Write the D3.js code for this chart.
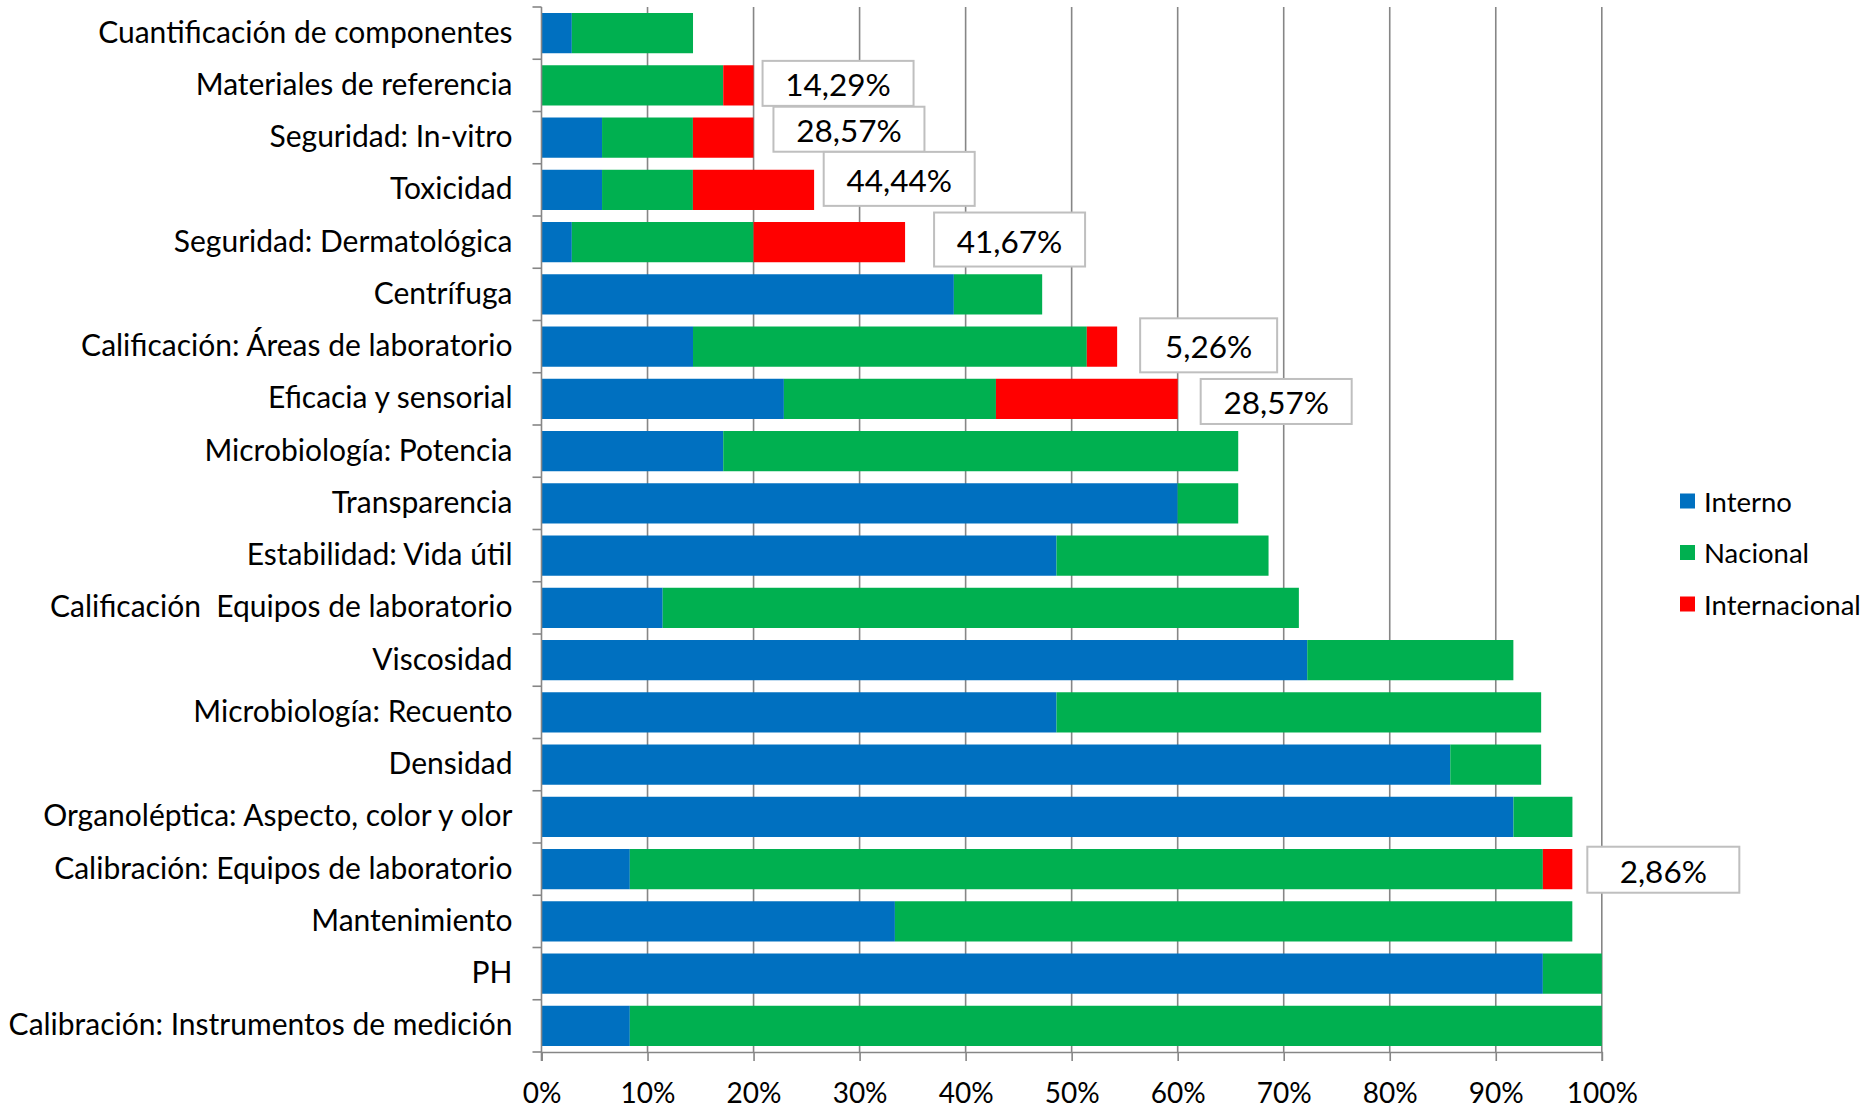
<!DOCTYPE html>
<html>
<head>
<meta charset="utf-8">
<script src="https://cdn.jsdelivr.net/npm/d3@7"></script>
<style>
  html, body { margin: 0; padding: 0; background: #ffffff; }
  svg { display: block; }
  text { font-family: Lato, "Open Sans", sans-serif; fill: #000; white-space: pre; }
</style>
</head>
<body>
<svg id="chart" width="1866" height="1108"></svg>
<script>
// Categories, top to bottom
const categories = [
  "Cuantificación de componentes",
  "Materiales de referencia",
  "Seguridad: In-vitro",
  "Toxicidad",
  "Seguridad: Dermatológica",
  "Centrífuga",
  "Calificación: Áreas de laboratorio",
  "Eficacia y sensorial",
  "Microbiología: Potencia",
  "Transparencia",
  "Estabilidad: Vida útil",
  "Calificación  Equipos de laboratorio",
  "Viscosidad",
  "Microbiología: Recuento",
  "Densidad",
  "Organoléptica: Aspecto, color y olor",
  "Calibración: Equipos de laboratorio",
  "Mantenimiento",
  "PH",
  "Calibración: Instrumentos de medición"
];

// Share of laboratories (%) by type of service provider
const interno = [2.86, 0, 5.71, 5.71, 2.86, 38.89, 14.29, 22.86, 17.14, 60.00,
                 48.57, 11.43, 72.22, 48.57, 85.71, 91.67, 8.33, 33.33, 94.44, 8.33];
const nacional = [11.43, 17.14, 8.57, 8.57, 17.14, 8.33, 37.14, 20.00, 48.57, 5.71,
                  20.00, 60.00, 19.44, 45.71, 8.57, 5.56, 86.11, 63.89, 5.56, 91.67];
const internacional = [0, 2.86, 5.71, 11.43, 14.29, 0, 2.86, 17.14, 0, 0,
                       0, 0, 0, 0, 0, 0, 2.78, 0, 0, 0];

// Internacional share within each row (%), shown in callouts
const internacionalShare = [null, 14.29, 28.57, 44.44, 41.67, null, 5.26, 28.57, null, null,
                            null, null, null, null, null, null, 2.86, null, null, null];

const xTicks = [0, 10, 20, 30, 40, 50, 60, 70, 80, 90, 100];

const seriesNames = ["Interno", "Nacional", "Internacional"];
const seriesColors = ["#0070C0", "#00B050", "#FF0000"];

// Callout placement: gap after the bar end, vertical shift, box width, box height (px)
const calloutNudge = {
  1: [9, -2, 151, 45], 2: [20, -8.4, 151, 45], 3: [9.6, -11, 151, 54], 4: [29, -2.6, 151, 54],
  6: [23, -1.3, 137, 54], 7: [23, 2.6, 151, 45], 16: [15, 0.6, 152, 46]
};

const svg = d3.select("#chart");
const plot = { left: 541.5, right: 1601.8, top: 7, bottom: 1052 };
const axisColor = "#868686";

const x = d3.scaleLinear().domain([0, 100]).range([plot.left, plot.right]);
const y = d3.scaleBand().domain(categories).range([plot.top, plot.bottom]).paddingInner(0.23).paddingOuter(0.115);

const rows = categories.map((c, i) => ({
  cat: c,
  vals: [interno[i], nacional[i], internacional[i]],
  share: internacionalShare[i],
  i
}));

const stack = d3.stack().keys([0, 1, 2]).value((d, k) => d.vals[k]);
const stacked = stack(rows);

// vertical gridlines
svg.append("g").selectAll("line")
  .data(xTicks.filter(t => t > 0))
  .join("line")
  .attr("x1", d => x(d)).attr("x2", d => x(d))
  .attr("y1", plot.top).attr("y2", plot.bottom)
  .attr("stroke", axisColor).attr("stroke-width", 1.6);

// bars
svg.append("g").selectAll("g")
  .data(stacked)
  .join("g")
  .attr("fill", (d, k) => seriesColors[k])
  .selectAll("rect")
  .data(d => d)
  .join("rect")
  .attr("x", d => x(d[0]))
  .attr("width", d => Math.max(0, x(d[1]) - x(d[0])))
  .attr("y", d => y(d.data.cat))
  .attr("height", y.bandwidth());

// category axis
const yAxis = svg.append("g")
  .attr("transform", `translate(${plot.left},0)`)
  .call(d3.axisLeft(y).tickSize(0).tickPadding(29));
yAxis.select(".domain").remove();
yAxis.selectAll("text").attr("font-size", 30).attr("font-family", "Lato");

const step = y.step();
const bounds = d3.range(categories.length + 1).map(k => plot.top + k * step);
svg.append("g").selectAll("line").data(bounds).join("line")
  .attr("x1", plot.left - 9).attr("x2", plot.left)
  .attr("y1", d => d).attr("y2", d => d)
  .attr("stroke", axisColor).attr("stroke-width", 1.6);
svg.append("line")
  .attr("x1", plot.left).attr("x2", plot.left)
  .attr("y1", plot.top).attr("y2", plot.bottom + 9)
  .attr("stroke", axisColor).attr("stroke-width", 1.6);

// value axis
const xAxis = svg.append("g")
  .attr("transform", `translate(0,${plot.bottom})`)
  .call(d3.axisBottom(x).tickValues(xTicks).tickFormat(d => d + "%").tickSize(9).tickPadding(22));
xAxis.select(".domain").attr("stroke", axisColor).attr("stroke-width", 1.6);
xAxis.selectAll(".tick line").attr("stroke", axisColor).attr("stroke-width", 1.6);
xAxis.selectAll("text").attr("font-size", 28).attr("font-family", "Lato");

// callouts
const fmt = v => v.toFixed(2).replace(".", ",") + "%";
const callouts = svg.append("g");
rows.filter(r => r.share != null).forEach(r => {
  const end = x(r.vals[0] + r.vals[1] + r.vals[2]);
  const [gap, dy, w, h] = calloutNudge[r.i];
  const cy = y(r.cat) + y.bandwidth() / 2 + dy;
  const g = callouts.append("g");
  g.append("rect")
    .attr("x", end + gap).attr("y", cy - h / 2)
    .attr("width", w).attr("height", h)
    .attr("fill", "#fff").attr("stroke", "#bfbfbf").attr("stroke-width", 2);
  g.append("text")
    .attr("font-size", 31.5)
    .attr("dominant-baseline", "central")
    .attr("text-anchor", "middle")
    .attr("x", end + gap + w / 2).attr("y", cy + 1)
    .text(fmt(r.share));
});

// legend
const legend = svg.append("g").attr("transform", "translate(1680,501)");
seriesNames.forEach((name, k) => {
  const g = legend.append("g").attr("transform", `translate(0,${k * 51.5})`);
  g.append("rect").attr("x", 0).attr("y", -7.5).attr("width", 15).attr("height", 15).attr("fill", seriesColors[k]);
  g.append("text").attr("x", 24).attr("y", 0).attr("dominant-baseline", "central")
    .attr("font-size", 27.5).text(name);
});
</script>
</body>
</html>
